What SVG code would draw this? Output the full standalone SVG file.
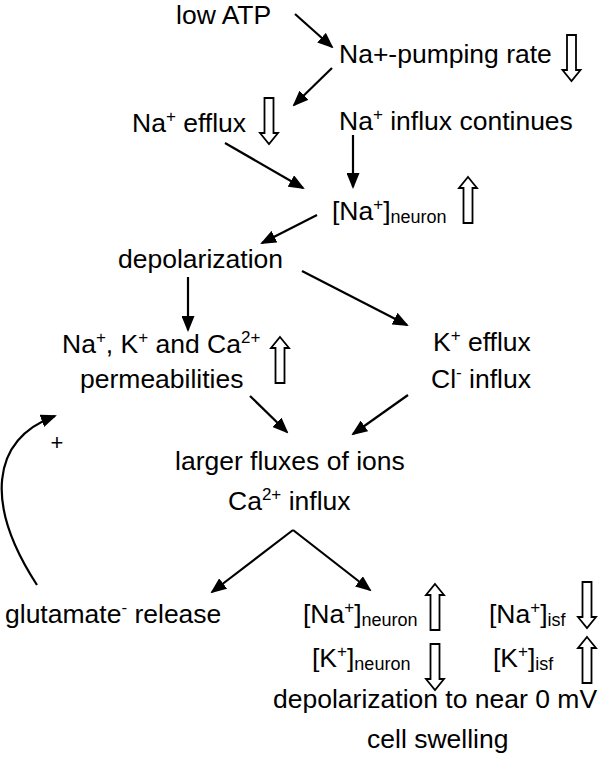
<svg xmlns="http://www.w3.org/2000/svg" xmlns:xlink="http://www.w3.org/1999/xlink" width="598" height="765" viewBox="0 0 598 765">
<style>
text{font-family:"Liberation Sans",Arial,sans-serif;font-size:26.5px;fill:#000}
.s{font-size:17px}
.b{font-size:18px}
.ln{stroke:#000;stroke-width:2.2;fill:none;marker-end:url(#ah)}
.blk{fill:#fff;stroke:#000;stroke-width:1.8;stroke-linejoin:miter}
</style>
<defs>
<marker id="ah" markerUnits="userSpaceOnUse" viewBox="0 0 16 13" markerWidth="16" markerHeight="13" refX="14" refY="6.5" orient="auto">
<path d="M0,0 L16,6.5 L0,13 z" fill="#000"/>
</marker>
<path id="dn" d="M-4.5,0 H4.5 V35 H9 L0,46 L-9,35 H-4.5 Z"/>
<path id="up" d="M0,0 L9,11 H4.5 V46 H-4.5 V11 H-9 Z"/>
</defs>
<rect width="598" height="765" fill="#fff"/>
<g id="connectors">
<line class="ln" x1="295" y1="14" x2="332" y2="47"/>
<line class="ln" x1="332" y1="68" x2="294" y2="105"/>
<line class="ln" x1="353" y1="135" x2="353" y2="187"/>
<line class="ln" x1="225" y1="143" x2="303" y2="188"/>
<line class="ln" x1="317" y1="215" x2="262" y2="243"/>
<line class="ln" x1="188" y1="277" x2="188" y2="330"/>
<line class="ln" x1="302" y1="271" x2="407" y2="325"/>
<line class="ln" x1="250" y1="396" x2="287" y2="432"/>
<line class="ln" x1="408" y1="395" x2="353" y2="434"/>
<line class="ln" x1="293" y1="530" x2="370" y2="590"/>
<line class="ln" x1="293" y1="530" x2="212" y2="592"/>
<path class="ln" d="M37,585 C-15,505 -10,440 55,416"/>
</g>
<g id="n-lowatp"><text x="176" y="24">low ATP</text></g>
<g id="n-pump"><text x="339" y="63">Na+-pumping rate</text><use href="#dn" class="blk" x="571.5" y="35"/></g>
<g id="n-efflux"><text x="132" y="132">Na<tspan class="s" dy="-10">+</tspan><tspan dy="10"> efflux</tspan></text><use href="#dn" class="blk" x="269" y="98"/></g>
<g id="n-influx"><text x="339" y="130">Na<tspan class="s" dy="-10">+</tspan><tspan dy="10"> influx continues</tspan></text></g>
<g id="n-naneuron"><text x="332" y="220">[Na<tspan class="s" dy="-10">+</tspan><tspan dy="10">]</tspan><tspan class="b" dy="3">neuron</tspan></text><use href="#up" class="blk" x="468" y="177"/></g>
<g id="n-depol"><text x="118" y="268">depolarization</text></g>
<g id="n-perm"><text x="62" y="353">Na<tspan class="s" dy="-10">+</tspan><tspan dy="10">, K</tspan><tspan class="s" dy="-10">+</tspan><tspan dy="10"> and Ca</tspan><tspan class="s" dy="-10">2+</tspan></text><text x="80" y="388">permeabilities</text><use href="#up" class="blk" x="280" y="337"/></g>
<g id="n-kefflux"><text x="433" y="351">K<tspan class="s" dy="-10">+</tspan><tspan dy="10"> efflux</tspan></text><text x="431" y="388">Cl<tspan class="s" dy="-10">-</tspan><tspan dy="10"> influx</tspan></text></g>
<g id="n-fluxes"><text x="175" y="470">larger fluxes of ions</text><text x="228" y="510">Ca<tspan class="s" dy="-10">2+</tspan><tspan dy="10"> influx</tspan></text></g>
<g id="n-glut"><text x="5" y="623">glutamate<tspan class="s" dy="-10">-</tspan><tspan dy="10"> release</tspan></text></g>
<g id="n-plus"><text x="57" y="450" text-anchor="middle" style="font-size:22px">+</text></g>
<g id="n-result">
<text x="303" y="623">[Na<tspan class="s" dy="-10">+</tspan><tspan dy="10">]</tspan><tspan class="b" dy="3">neuron</tspan></text>
<use href="#up" class="blk" x="435" y="584"/>
<text x="489" y="623">[Na<tspan class="s" dy="-10">+</tspan><tspan dy="10">]</tspan><tspan class="b" dy="3">isf</tspan></text>
<use href="#dn" class="blk" x="587" y="582"/>
<text x="312" y="667">[K<tspan class="s" dy="-10">+</tspan><tspan dy="10">]</tspan><tspan class="b" dy="3">neuron</tspan></text>
<use href="#dn" class="blk" x="435" y="644"/>
<text x="493" y="667">[K<tspan class="s" dy="-10">+</tspan><tspan dy="10">]</tspan><tspan class="b" dy="3">isf</tspan></text>
<use href="#up" class="blk" x="587" y="637"/>
<text x="273" y="708">depolarization to near 0 mV</text>
<text x="367" y="748">cell swelling</text>
</g>
</svg>
